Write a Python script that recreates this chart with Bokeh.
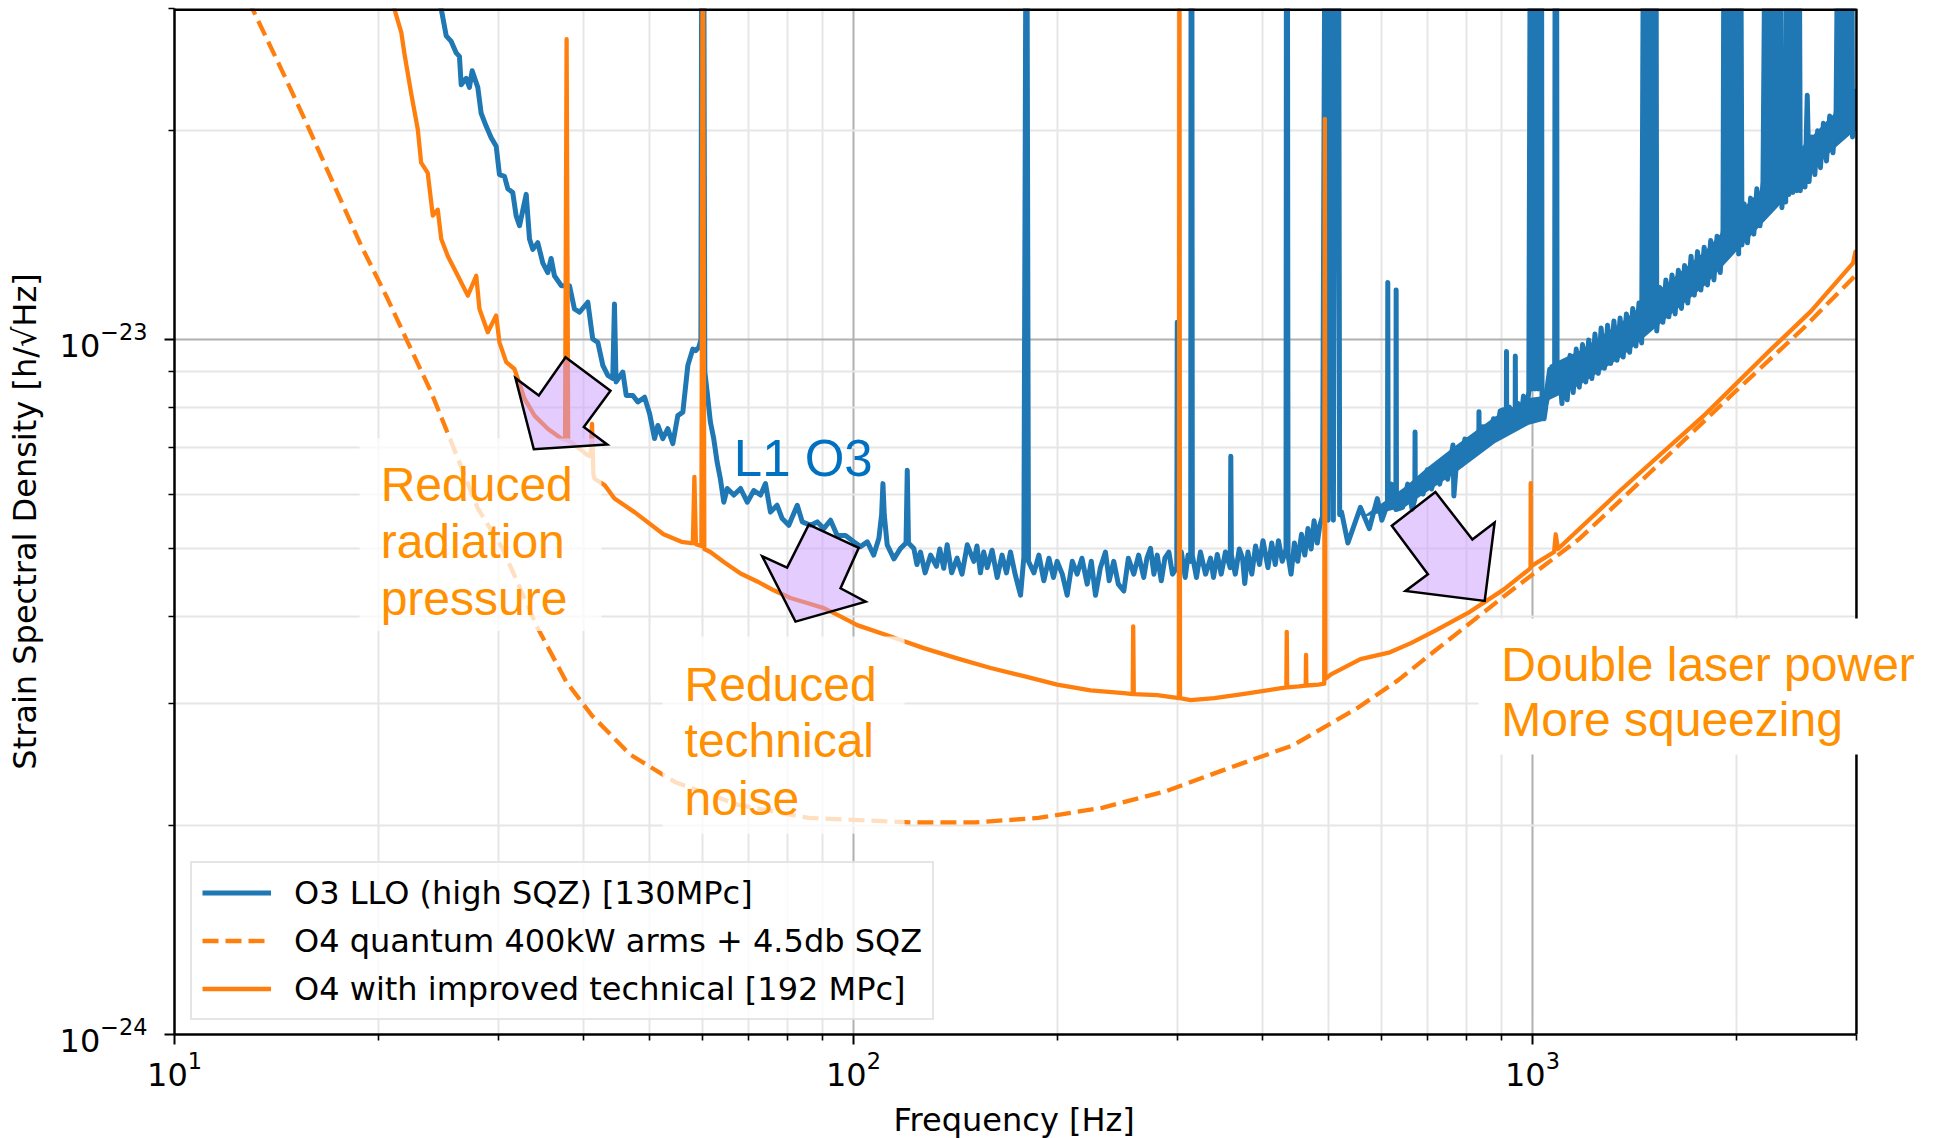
from bokeh.plotting import figure
from bokeh.models import Range1d, Label, Legend, LegendItem, FixedTicker, Title
from bokeh.embed import file_html
from bokeh.resources import INLINE

# ---------------- data ----------------
x_major_ticks = [10, 100, 1000]
x_minor_ticks = [20, 30, 40, 50, 60, 70, 80, 90, 200, 300, 400, 500, 600, 700, 800, 900, 2000, 3000]
y_major_ticks = [1e-24, 1e-23]
y_minor_ticks = [2e-24, 3e-24, 4e-24, 5e-24, 6e-24, 7e-24, 8e-24, 9e-24, 2e-23, 3e-23]
x_data_min, x_data_max = 10, 3000
y_data_min, y_data_max = 1e-24, 3e-23

o3_freq = [
    24.4, 25.13, 25.56, 25.99, 26.28, 26.44, 26.89, 27.19,
    27.44, 27.97, 28.29, 28.78, 29.27, 29.77, 30.1, 30.62,
    30.97, 31.49, 31.85, 32.22, 32.96, 33.33, 33.71, 34.28,
    34.87, 35.46, 35.87, 36.27, 37.12, 38.17, 38.82, 39.49,
    40.62, 41.3, 42.02, 42.74, 43.47, 44.2, 44.46, 44.7,
    45.74, 46.27, 47.32, 48.13, 49.24, 50.09, 50.93, 51.51,
    52.38, 53.28, 54.19, 55.11, 56.06, 57.02, 57.99, 58.53,
    59.19, 59.6, 59.8, 60.15, 60.4, 60.88, 61.55, 62.25,
    62.97, 63.67, 64.42, 65.17, 66.65, 68.18, 69.75, 71.32,
    72.95, 74.2, 75.46, 77.18, 78.52, 80.3, 82.64, 84.05,
    86.47, 88.45, 90.42, 92.51, 94.63, 97.32, 100.1, 102.4,
    104.8, 107.1, 109.0, 110.0, 110.5, 111.0, 112.1, 114.7,
    117.3, 119.5, 120.0, 120.5, 122.7, 124.0, 125.5, 127.5,
    129.9, 132.5, 134.0, 135.8, 137.4, 139.5, 142.1, 144.5,
    147.1, 150.4, 152.0, 153.8, 155.5, 157.4, 160.0, 162.8,
    165.5, 168.0, 170.3, 173.0, 176.2, 178.2, 179.6, 180.0,
    181.0, 184.4, 187.5, 190.7, 194.0, 197.0, 199.5, 203.0,
    206.4, 210.0, 213.5, 217.0, 220.9, 224.0, 227.2, 231.0,
    235.0, 238.0, 241.7, 245.5, 250.1, 254.0, 258.7, 263.0,
    267.6, 270.5, 273.8, 277.0, 280.1, 284.0, 287.5, 291.4,
    295.0, 299.3, 299.8, 300.3, 304.0, 308.0, 311.0, 313.8,
    314.2, 315.0, 315.5, 320.0, 324.3, 330.0, 335.6, 339.0,
    343.4, 348.0, 353.0, 358.8, 359.5, 360.2, 365.0, 370.0,
    374.1, 376.9, 381.0, 386.0, 391.0, 396.2, 401.0, 407.7,
    413.0, 418.0, 422.6, 428.0, 433.5, 434.2, 435.5, 436.5,
    441.0, 446.0, 451.0, 456.9, 462.0, 467.0, 472.0, 476.8,
    482.0, 486.0, 490.6, 495.0, 500.0,
    504.0, 509.0, 513.0, 518.0, 520.0, 523.4, 534.7, 557.9,
    575.0, 590.8, 600.0, 611.5, 612.2, 613.0, 620.0, 629.2,
    629.8, 630.5, 643.6, 655.0, 665.0, 671.0, 671.5, 672.0,
    681.5, 690.0, 700.0, 710.0, 721.5, 730.0, 740.0, 750.0,
    763.7, 766.0, 775.0, 785.0, 795.0, 808.8, 820.0, 833.5,
    834.0, 835.0, 845.0, 856.3, 866.0, 876.0, 886.0, 896.0,
    906.6, 915.0, 915.6, 916.3, 925.0, 934.0, 943.0, 943.4,
    944.0, 952.0, 960.0, 970.0, 980.0, 987.6, 993.0, 998.0,
    1003.0, 1008.0, 1013.0, 1019.0, 1025.0, 1031.0, 1033.0, 1040.0,
    1045.0, 1052.0, 1060.0, 1068.0, 1078.0, 1080.0, 1085.0, 1087.0,
    1095, 1105, 1115, 1125, 1136, 1148, 1160, 1172,
    1185, 1198, 1210, 1223, 1236, 1250, 1262, 1276,
    1290, 1304, 1318, 1332, 1346, 1360, 1375, 1390,
    1405, 1420, 1435, 1448, 1458, 1466, 1474, 1482,
    1490, 1498, 1506, 1514, 1520, 1524, 1540, 1556,
    1572, 1588, 1605, 1622, 1640, 1657, 1675, 1693,
    1712, 1731, 1750, 1770, 1790, 1810, 1830, 1850,
    1870, 1890, 1908, 1915, 1927, 1939, 1951, 1963,
    1975, 1987, 1999, 2005, 2012, 2025, 2035, 2050,
    2073, 2095, 2118, 2140, 2163, 2185, 2204, 2218,
    2232, 2246, 2260, 2274, 2288, 2302, 2319, 2330,
    2345, 2360, 2371, 2386, 2402, 2418, 2434, 2450,
    2469, 2480, 2497, 2520, 2539, 2555, 2580, 2605,
    2630, 2655, 2682, 2710, 2740, 2770, 2800, 2820,
    2836, 2852, 2868, 2884, 2900, 2916, 2932, 2953,
    2960, 2985, 3000,
]
o3_asd = [
    3.2e-23, 2.74e-23, 2.69e-23, 2.59e-23, 2.56e-23, 2.33e-23, 2.38e-23, 2.31e-23,
    2.44e-23, 2.31e-23, 2.12e-23, 2.03e-23, 1.955e-23, 1.90e-23, 1.73e-23, 1.72e-23,
    1.65e-23, 1.63e-23, 1.51e-23, 1.46e-23, 1.62e-23, 1.397e-23, 1.35e-23, 1.38e-23,
    1.29e-23, 1.25e-23, 1.31e-23, 1.237e-23, 1.197e-23, 1.197e-23, 1.108e-23, 1.096e-23,
    1.133e-23, 1.003e-23, 9.92e-24, 9.19e-24, 8.89e-24, 8.8e-24, 1.126e-23, 8.7e-24,
    8.99e-24, 8.32e-24, 8.32e-24, 8.14e-24, 8.27e-24, 7.83e-24, 7.21e-24, 7.53e-24,
    7.21e-24, 7.45e-24, 7.09e-24, 7.78e-24, 7.87e-24, 9.19e-24, 9.7e-24, 9.65e-24,
    9.76e-24, 1.0e-23, 5e-23, 5e-23, 9.0e-24, 8.41e-24, 7.62e-24, 7.21e-24,
    6.67e-24, 6.31e-24, 5.84e-24, 6.11e-24, 5.98e-24, 6.11e-24, 5.84e-24, 6.07e-24,
    5.98e-24, 6.21e-24, 5.65e-24, 5.78e-24, 5.53e-24, 5.41e-24, 5.78e-24, 5.47e-24,
    5.41e-24, 5.47e-24, 5.35e-24, 5.50e-24, 5.23e-24, 5.23e-24, 5.12e-24, 5.04e-24,
    5.12e-24, 4.90e-24, 5.18e-24, 5.6e-24, 6.21e-24, 5.6e-24, 5.07e-24, 4.84e-24,
    5.01e-24, 5.1e-24, 6.49e-24, 5.1e-24, 5.01e-24, 4.75e-24, 4.95e-24, 4.62e-24,
    4.90e-24, 4.72e-24, 5.0e-24, 4.69e-24, 5.07e-24, 4.62e-24, 4.85e-24, 4.6e-24,
    5.07e-24, 4.8e-24, 5.05e-24, 4.62e-24, 4.95e-24, 4.7e-24, 4.98e-24, 4.55e-24,
    4.9e-24, 4.62e-24, 4.95e-24, 4.6e-24, 4.29e-24, 4.87e-24, 5e-23, 5e-23,
    4.8e-24, 4.62e-24, 4.9e-24, 4.5e-24, 4.85e-24, 4.55e-24, 4.8e-24, 4.6e-24,
    4.29e-24, 4.8e-24, 4.6e-24, 4.85e-24, 4.45e-24, 4.8e-24, 4.29e-24, 4.7e-24,
    4.95e-24, 4.5e-24, 4.8e-24, 4.45e-24, 4.35e-24, 4.85e-24, 4.6e-24, 4.9e-24,
    4.55e-24, 4.85e-24, 5.01e-24, 4.6e-24, 4.9e-24, 4.5e-24, 4.85e-24, 4.95e-24,
    4.6e-24, 4.7e-24, 1.06e-23, 4.7e-24, 4.95e-24, 4.55e-24, 4.9e-24, 4.8e-24,
    5e-23, 5e-23, 4.9e-24, 4.55e-24, 4.95e-24, 4.6e-24, 4.85e-24, 4.55e-24,
    4.91e-24, 4.6e-24, 4.95e-24, 4.7e-24, 6.80e-24, 4.9e-24, 4.6e-24, 5.0e-24,
    4.85e-24, 4.46e-24, 4.95e-24, 4.6e-24, 5.05e-24, 4.75e-24, 5.14e-24, 4.7e-24,
    5.1e-24, 4.75e-24, 5.14e-24, 4.8e-24, 5.0e-24, 5e-23, 5e-23, 4.9e-24,
    4.6e-24, 5.1e-24, 4.8e-24, 5.25e-24, 4.9e-24, 5.35e-24, 5.0e-24, 5.49e-24,
    5.1e-24, 5.4e-24, 5.57e-24, 5e-23, 5.5e-24,
    5e-23, 5.5e-24, 5e-23, 5e-23, 5.6e-24, 5.65e-24, 5.10e-24, 5.74e-24,
    5.35e-24, 5.91e-24, 5.5e-24, 5.8e-24, 1.21e-23, 5.8e-24, 6.2e-24, 5.7e-24,
    1.18e-23, 5.7e-24, 5.74e-24, 6.2e-24, 5.7e-24, 5.9e-24, 7.37e-24, 6.0e-24,
    6.27e-24, 6.0e-24, 6.5e-24, 6.1e-24, 6.46e-24, 6.2e-24, 6.7e-24, 6.3e-24,
    7.06e-24, 5.96e-24, 6.9e-24, 6.6e-24, 7.2e-24, 7.16e-24, 6.9e-24, 7.0e-24,
    7.88e-24, 7.1e-24, 7.5e-24, 7.48e-24, 7.1e-24, 7.7e-24, 7.3e-24, 7.9e-24,
    7.94e-24, 7.6e-24, 9.62e-24, 7.7e-24, 8.0e-24, 7.6e-24, 7.8e-24, 9.48e-24,
    7.8e-24, 8.1e-24, 7.6e-24, 8.3e-24, 7.9e-24, 8.42e-24, 5e-23, 8.5e-24,
    5e-23, 8.5e-24, 5e-23, 8.5e-24, 5e-23, 5e-23, 7.8e-24, 7.7e-24,
    7.94e-24, 8.6e-24, 9.07e-24, 8.7e-24, 8.9e-24, 5e-23, 5e-23, 9.0e-24,
    9.2e-24, 8.1e-24, 9.3e-24, 8.2e-24, 9.5e-24, 8.4e-24, 9.7e-24, 8.55e-24,
    9.85e-24, 8.7e-24, 1.0e-23, 8.8e-24, 1.02e-23, 8.95e-24, 1.04e-23, 9.1e-24,
    1.05e-23, 9.25e-24, 1.065e-23, 9.35e-24, 1.075e-23, 9.45e-24, 1.09e-23, 9.6e-24,
    1.11e-23, 9.8e-24, 1.13e-23, 9.9e-24, 5e-23, 1.08e-23, 5e-23, 1.08e-23,
    5e-23, 1.1e-23, 5e-23, 1.1e-23, 5e-23, 1.03e-23, 1.19e-23, 1.06e-23,
    1.22e-23, 1.08e-23, 1.24e-23, 1.09e-23, 1.26e-23, 1.11e-23, 1.28e-23, 1.13e-23,
    1.32e-23, 1.16e-23, 1.34e-23, 1.18e-23, 1.36e-23, 1.2e-23, 1.39e-23, 1.22e-23,
    1.41e-23, 1.25e-23, 1.44e-23, 5e-23, 1.35e-23, 5e-23, 1.36e-23, 5e-23,
    1.37e-23, 5e-23, 1.38e-23, 5e-23, 1.33e-23, 5e-23, 1.37e-23, 1.57e-23,
    1.38e-23, 1.6e-23, 1.42e-23, 1.65e-23, 1.46e-23, 1.69e-23, 5e-23, 1.55e-23,
    5e-23, 1.55e-23, 5e-23, 1.57e-23, 5e-23, 1.58e-23, 5e-23, 1.55e-23,
    1.79e-23, 1.58e-23, 5e-23, 1.62e-23, 5e-23, 1.63e-23, 5e-23, 1.64e-23,
    5e-23, 1.64e-23, 1.88e-23, 1.66e-23, 2.25e-23, 1.69e-23, 1.96e-23, 1.73e-23,
    2.0e-23, 1.77e-23, 2.05e-23, 1.81e-23, 2.1e-23, 1.86e-23, 2.14e-23, 5e-23,
    1.95e-23, 5e-23, 1.96e-23, 5e-23, 1.98e-23, 5e-23, 2.0e-23, 5e-23,
    1.96e-23, 2.28e-23, 2.0e-23,
]

# dense core of the O3 noise band above ~560 Hz (inner envelope)
o3_band_freq = [560, 650, 700, 764, 880, 988, 1040, 1060, 1172, 1352, 1559, 1798, 2073, 2392, 2757, 3000]
o3_band_hi = [5.55e-24, 6.15e-24, 6.55e-24, 7.0e-24, 7.75e-24, 8.25e-24, 8.3e-24, 9.2e-24,
              9.65e-24, 1.06e-23, 1.195e-23, 1.345e-23, 1.57e-23, 1.82e-23, 2.1e-23, 2.25e-23]
o3_band_lo = [5.55e-24, 5.75e-24, 6.05e-24, 6.4e-24, 7.1e-24, 7.55e-24, 7.65e-24, 8.2e-24,
              8.6e-24, 9.45e-24, 1.065e-23, 1.2e-23, 1.395e-23, 1.62e-23, 1.87e-23, 2.01e-23]

o4q_freq = [
    12.4, 13.04, 14.52, 15.72, 17.2, 18.84, 20.61, 22.06,
    23.88, 25.56, 27.97, 30.41, 34.25, 37.76, 41.17, 46.88,
    54.55, 67.7, 85.9, 121.4, 150.8, 187.2, 232.3, 288.4,
    357.9, 444.6, 551.8, 634.9, 721.5, 906.6, 1001.6, 1172,
    1494, 1988, 2497, 2965, 3000,
]
o4q_asd = [
    3.3e-23, 2.99e-23, 2.40e-23, 2.03e-23, 1.666e-23, 1.366e-23, 1.145e-23, 9.92e-24,
    8.41e-24, 7.13e-24, 5.72e-24, 5.01e-24, 3.85e-24, 3.22e-24, 2.88e-24, 2.53e-24,
    2.31e-24, 2.14e-24, 2.05e-24, 2.02e-24, 2.02e-24, 2.05e-24, 2.12e-24, 2.24e-24,
    2.42e-24, 2.61e-24, 2.95e-24, 3.24e-24, 3.58e-24, 4.27e-24, 4.60e-24, 5.17e-24,
    6.46e-24, 8.42e-24, 1.036e-23, 1.228e-23, 1.24e-23,
]

o4t_freq = [
    20.9, 21.09, 21.58, 21.82, 22.32, 22.82, 23.08, 23.6,
    24.01, 24.42, 24.71, 25.27, 26.14, 27.04, 27.82, 28.13,
    28.93, 29.77, 30.1, 30.8, 31.67, 32.77, 33.9, 35.46,
    37.12, 37.6, 37.8, 38.0, 38.38, 40.62, 41.0, 41.2,
    41.4, 41.56, 42.99, 44.46, 47.59, 52.5, 55.8, 57.7,
    58.0, 58.3, 58.6, 59.7, 60.0, 60.3, 61.55, 64.42,
    68.18, 72.15, 76.3, 80.76, 85.46, 90.42, 95.68, 101.25,
    113.4, 126.9, 142.1, 159.2, 178.2, 199.5, 223.4, 250.1,
    257.8, 258.2, 258.7, 280.1, 301.5, 302.0, 302.6, 313.5,
    340.0, 374.1, 434.0, 434.6, 435.2, 453.0, 463.5, 464.0,
    464.5, 484.0, 493.5, 494.5, 495.5, 505.0, 558.0, 616.6,
    662.2, 721.5, 808.8, 906.6, 987.6, 993.5, 994.0, 994.6,
    1076, 1082, 1090, 1352, 1494, 1798, 2228, 2570,
    2965, 2990, 3000,
]
o4t_asd = [
    3.3e-23, 2.99e-23, 2.77e-23, 2.575e-23, 2.26e-23, 2.01e-23, 1.80e-23, 1.74e-23,
    1.51e-23, 1.54e-23, 1.397e-23, 1.32e-23, 1.237e-23, 1.158e-23, 1.237e-23, 1.108e-23,
    1.026e-23, 1.084e-23, 9.92e-24, 9.29e-24, 9.08e-24, 8.23e-24, 7.78e-24, 7.45e-24,
    7.21e-24, 7.18e-24, 2.71e-23, 7.15e-24, 7.13e-24, 6.82e-24, 6.8e-24, 7.57e-24,
    6.4e-24, 6.31e-24, 6.18e-24, 5.91e-24, 5.65e-24, 5.25e-24, 5.12e-24, 5.1e-24,
    5.1e-24, 6.35e-24, 5.08e-24, 5.05e-24, 5e-23, 5.0e-24, 4.95e-24, 4.79e-24,
    4.61e-24, 4.49e-24, 4.36e-24, 4.25e-24, 4.18e-24, 4.11e-24, 4.00e-24, 3.885e-24,
    3.74e-24, 3.60e-24, 3.48e-24, 3.37e-24, 3.28e-24, 3.19e-24, 3.13e-24, 3.10e-24,
    3.09e-24, 3.87e-24, 3.09e-24, 3.08e-24, 3.05e-24, 5e-23, 3.05e-24, 3.03e-24,
    3.05e-24, 3.09e-24, 3.16e-24, 3.8e-24, 3.16e-24, 3.17e-24, 3.18e-24, 3.52e-24,
    3.18e-24, 3.19e-24, 3.2e-24, 2.08e-23, 3.25e-24, 3.30e-24, 3.47e-24, 3.55e-24,
    3.66e-24, 3.82e-24, 4.06e-24, 4.37e-24, 4.67e-24, 4.7e-24, 6.22e-24, 4.72e-24,
    4.95e-24, 5.25e-24, 5.0e-24, 6.09e-24, 6.65e-24, 7.82e-24, 9.62e-24, 1.099e-23,
    1.29e-23, 1.34e-23, 1.31e-23,
]

series_labels = [
    "O3 LLO (high SQZ) [130MPc]",
    "O4 quantum 400kW arms + 4.5db SQZ",
    "O4 with improved technical [192 MPc]",
]

# ---------------- annotation geometry (data units) ----------------
arrow1_f = [37.66, 43.86, 40.07, 43.38, 33.82, 31.78, 34.4]
arrow1_v = [9.44e-24, 8.45e-24, 7.49e-24, 7.07e-24, 6.96e-24, 8.81e-24, 8.32e-24]
arrow2_f = [85.93, 101.8, 95.7, 104.2, 82.14, 73.39, 79.84]
arrow2_v = [5.42e-24, 5.02e-24, 4.39e-24, 4.20e-24, 3.93e-24, 4.88e-24, 4.70e-24]
arrow3_f = [620.6, 719.5, 815.6, 879.5, 850.4, 650.1, 701.5]
arrow3_v = [5.40e-24, 6.04e-24, 5.16e-24, 5.46e-24, 4.21e-24, 4.35e-24, 4.60e-24]

box_left = [18.73, 52.33]
box_right = [42.54, 118.9]
box_bottom = [3.81e-24, 1.945e-24]
box_top = [7.21e-24, 3.74e-24]
box3 = (832.9, 2.53e-24, 3.97e-24)   # left, bottom, top (runs off the right edge)

note_texts = [
    ("Reduced", 20.12, 5.95e-24), ("radiation", 20.12, 4.93e-24), ("pressure", 20.12, 4.08e-24),
    ("Reduced", 56.39, 3.07e-24), ("technical", 56.39, 2.55e-24), ("noise", 56.39, 2.10e-24),
    ("Double laser power", 899.6, 3.28e-24), ("More squeezing", 899.6, 2.73e-24),
]

BLUE = "#1f77b4"
ORANGE = "#ff7f0e"
NOTE_ORANGE = "#ff9000"
FONT = "DejaVu Sans"
X_FRAME_END = 3909   # frame continues past 3000 Hz so the right-hand note can overhang

p = figure(
    width=1934, height=1138,
    x_axis_type="log", y_axis_type="log",
    x_range=Range1d(x_data_min, X_FRAME_END), y_range=Range1d(y_data_min, y_data_max),
    output_backend="svg", toolbar_location=None,
    min_border_left=174, min_border_right=0, min_border_top=8, min_border_bottom=101,
    y_axis_label="Strain Spectral Density [h/\u221aHz]",
)
p.background_fill_color = "white"
p.border_fill_color = "white"
p.outline_line_color = None

p.xaxis.ticker = FixedTicker(ticks=x_major_ticks, minor_ticks=x_minor_ticks)
p.yaxis.ticker = FixedTicker(ticks=y_major_ticks, minor_ticks=y_minor_ticks)
p.xaxis.bounds = (x_data_min, x_data_max)

for ax in (p.xaxis, p.yaxis):
    ax.axis_line_width = 2.5
    ax.axis_line_color = "black"
    ax.major_tick_line_width = 2
    ax.minor_tick_line_width = 1.6
    ax.major_tick_out = 10
    ax.major_tick_in = 0
    ax.minor_tick_out = 6
    ax.minor_tick_in = 0
    ax.major_label_text_font = FONT
    ax.major_label_text_font_size = "32px"
    ax.major_label_text_color = "black"
    ax.axis_label_text_font = FONT
    ax.axis_label_text_font_size = "32px"
    ax.axis_label_text_font_style = "normal"
    ax.axis_label_text_color = "black"

p.xaxis.major_label_standoff = 6
p.yaxis.major_label_standoff = 17
p.yaxis.axis_label_standoff = 13
# tiny blank spacer under the x tick labels (pushes the x title down a little)
p.xaxis.axis_label = " "
p.xaxis.axis_label_text_font_size = "1px"
p.xaxis.axis_label_standoff = 6

# x-axis title, centred under the 10 Hz .. 3 kHz span
xtitle = Title(text="Frequency [Hz]", align="left", offset=719, standoff=0,
               text_font=FONT, text_font_size="32px", text_font_style="normal",
               text_color="black")
p.add_layout(xtitle, "below")

for g in (p.xgrid, p.ygrid):
    g.grid_line_color = "#b0b0b0"
    g.grid_line_width = 2
    g.minor_grid_line_color = "#e6e6e6"
    g.minor_grid_line_width = 2

r_o3 = p.line(o3_freq, o3_asd, line_color=BLUE, line_width=5, line_join="round")
p.varea(x=o3_band_freq, y1=o3_band_lo, y2=o3_band_hi, fill_color=BLUE)
r_q = p.line(o4q_freq, o4q_asd, line_color=ORANGE, line_width=4.3, line_dash="16 7")
r_t = p.line(o4t_freq, o4t_asd, line_color=ORANGE, line_width=4.3, line_join="round")

# blank strip beyond the data range, then the top and right spines
p.quad(left=[x_data_max], right=[X_FRAME_END], bottom=[y_data_min], top=[y_data_max],
       fill_color="white", line_color=None)
p.line([x_data_min, x_data_max], [y_data_max, y_data_max], line_color="black", line_width=5)
p.line([x_data_max, x_data_max], [y_data_min, y_data_max], line_color="black", line_width=2.5)

# white text boxes
p.quad(left=box_left, right=box_right, bottom=box_bottom, top=box_top,
       fill_color="white", fill_alpha=0.75, line_color=None)
p.quad(left=[box3[0]], right=[X_FRAME_END], bottom=[box3[1]], top=[box3[2]],
       fill_color="white", fill_alpha=1.0, line_color=None)

for af, av in ((arrow1_f, arrow1_v), (arrow2_f, arrow2_v), (arrow3_f, arrow3_v)):
    p.patch(af, av, fill_color="#cc99ff", fill_alpha=0.5,
            line_color="black", line_width=2.5, line_join="miter")

for txt, fx, fy in note_texts:
    p.add_layout(Label(x=fx, y=fy, text=txt, text_font="Liberation Sans",
                       text_font_size="48px", text_color=NOTE_ORANGE, y_offset=12,
                       text_baseline="alphabetic", text_align="left"))

p.add_layout(Label(x=66.63, y=6.49e-24, text="L1 O3", text_font="Liberation Sans",
                   text_font_size="51px", text_color="#0070c0", y_offset=12,
                   text_baseline="alphabetic", text_align="left"))

legend = Legend(items=[
    LegendItem(label=series_labels[0], renderers=[r_o3]),
    LegendItem(label=series_labels[1], renderers=[r_q]),
    LegendItem(label=series_labels[2], renderers=[r_t]),
], location=(16, 14))
legend.margin = 0
legend.padding = 10
legend.spacing = 9
legend.glyph_width = 69
legend.glyph_height = 39
legend.label_height = 39
legend.label_standoff = 23
legend.label_text_font = FONT
legend.label_text_font_size = "32px"
legend.label_text_color = "black"
legend.border_line_color = "#cccccc"
legend.border_line_width = 2
legend.background_fill_color = "white"
legend.background_fill_alpha = 0.8
p.add_layout(legend)

open("out.html", "w").write(file_html(p, INLINE))
